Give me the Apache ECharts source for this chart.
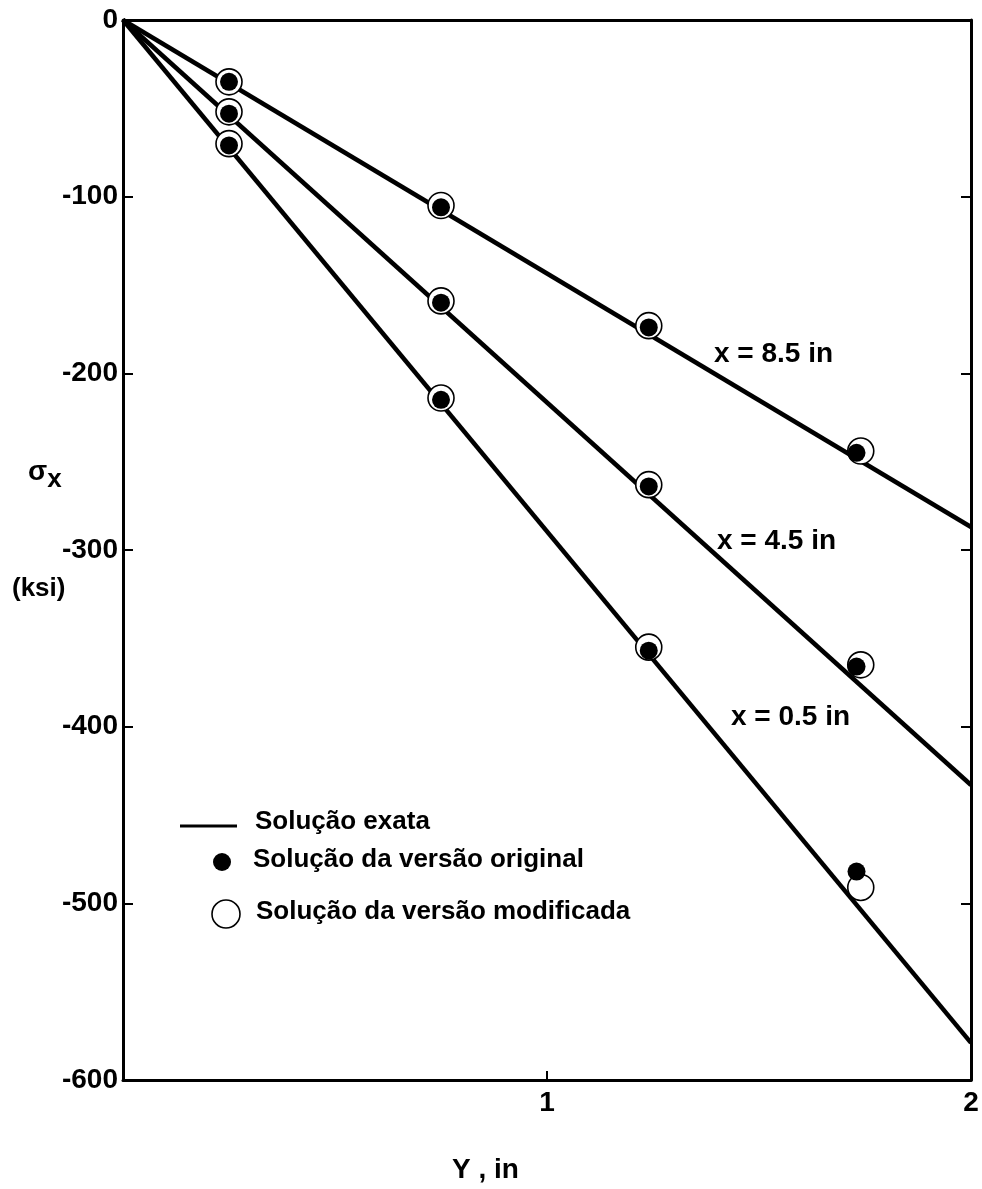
<!DOCTYPE html>
<html>
<head>
<meta charset="utf-8">
<script src="https://cdn.jsdelivr.net/npm/echarts@6/dist/echarts.min.js"></script>
<style>
  html, body { margin: 0; padding: 0; background: #ffffff; }
  #chart { width: 982px; height: 1189px; }
</style>
</head>
<body>
<div id="chart"></div>
<script>
// Exact solution: straight lines from the origin, sampled at both ends (Y, in)
const exactY = [0, 2];
const exact85 = [0, -287];
const exact45 = [0, -433];
const exact05 = [0, -579];

// Original-version solution (filled dots)
const origY = [0.25, 0.75, 1.24, 1.73];
const orig85 = [-35, -106, -174, -245];
const orig45 = [-53, -160, -264, -366];
const orig05 = [-71, -215, -357, -482];

// Modified-version solution (open circles)
const modY = [0.25, 0.75, 1.24, 1.74];
const mod85 = [-35, -105, -173, -244];
const mod45 = [-52, -159, -263, -365];
const mod05 = [-70, -214, -355, -491];

const curveLabels = ['x = 8.5 in', 'x = 4.5 in', 'x = 0.5 in'];
const legendLabels = ['Solução exata', 'Solução da versão original', 'Solução da versão modificada'];
const xTickLabels = { 1: '1', 2: '2' };

const zip = (xs, ys) => xs.map((x, i) => [x, ys[i]]);

const FONT = '"Liberation Sans", Arial, Helvetica, sans-serif';
const chart = echarts.init(document.getElementById('chart'), null, { renderer: 'canvas' });

const axisLine = { show: true, onZero: false, lineStyle: { color: '#000', width: 3 } };
const tickStyle = { color: '#000', width: 2 };

const lineSeries = [exact85, exact45, exact05].map(v => ({
  name: legendLabels[0],
  type: 'line',
  data: zip(exactY, v),
  symbol: 'none',
  lineStyle: { color: '#000', width: 4.5 },
  z: 2,
  silent: true
}));

const modSeries = [mod85, mod45, mod05].map(v => ({
  name: legendLabels[2],
  type: 'scatter',
  data: zip(modY, v),
  symbol: 'circle',
  symbolSize: 26,
  itemStyle: { color: '#fff', borderColor: '#000', borderWidth: 1.6, opacity: 1 },
  z: 3,
  silent: true
}));

const origSeries = [orig85, orig45, orig05].map(v => ({
  name: legendLabels[1],
  type: 'scatter',
  data: zip(origY, v),
  symbol: 'circle',
  symbolSize: 18,
  itemStyle: { color: '#000', opacity: 1 },
  z: 4,
  silent: true
}));

const textStyleBase = { fill: '#000', fontFamily: FONT, fontWeight: 'bold' };

chart.setOption({
  animation: false,
  backgroundColor: '#fff',
  grid: { left: 123, top: 20, width: 848, height: 1060, containLabel: false },
  xAxis: [
    {
      type: 'value', min: 0, max: 2, interval: 1, position: 'bottom',
      axisLine: axisLine,
      axisTick: { show: true, inside: true, length: 9, lineStyle: tickStyle },
      axisLabel: {
        color: '#000', fontFamily: FONT, fontWeight: 'bold', fontSize: 28, margin: 9,
        formatter: v => xTickLabels[v] || ''
      },
      splitLine: { show: false }
    },
    {
      type: 'value', min: 0, max: 2, interval: 1, position: 'top',
      axisLine: axisLine, axisTick: { show: false }, axisLabel: { show: false },
      splitLine: { show: false }
    }
  ],
  yAxis: [
    {
      type: 'value', min: -600, max: 0, interval: 100, position: 'left',
      axisLine: axisLine,
      axisTick: { show: true, inside: true, length: 10, lineStyle: tickStyle },
      axisLabel: { color: '#000', fontFamily: FONT, fontWeight: 'bold', fontSize: 28, margin: 5 },
      splitLine: { show: false }
    },
    {
      type: 'value', min: -600, max: 0, interval: 100, position: 'right',
      axisLine: axisLine,
      axisTick: { show: true, inside: true, length: 10, lineStyle: tickStyle },
      axisLabel: { show: false },
      splitLine: { show: false }
    }
  ],
  series: [...lineSeries, ...modSeries, ...origSeries],
  graphic: [
    // axis titles
    {
      type: 'text', left: 28, top: 458,
      style: {
        text: '{s|σ}{sub|x}',
        rich: {
          s: { fontFamily: FONT, fontWeight: 'bold', fontSize: 28, fill: '#000' },
          sub: { fontFamily: FONT, fontWeight: 'bold', fontSize: 26, fill: '#000', padding: [16, 0, 0, 0] }
        }
      }
    },
    { type: 'text', left: 12, top: 576, style: Object.assign({ text: '(ksi)', fontSize: 26 }, textStyleBase) },
    { type: 'text', left: 452, top: 1156, style: Object.assign({ text: 'Y , in', fontSize: 28 }, textStyleBase) },
    // curve labels
    { type: 'text', left: 714, top: 340, style: Object.assign({ text: curveLabels[0], fontSize: 28 }, textStyleBase) },
    { type: 'text', left: 717, top: 527, style: Object.assign({ text: curveLabels[1], fontSize: 28 }, textStyleBase) },
    { type: 'text', left: 731, top: 703, style: Object.assign({ text: curveLabels[2], fontSize: 28 }, textStyleBase) },
    // key
    { type: 'rect', shape: { x: 180, y: 824.5, width: 57, height: 3 }, style: { fill: '#000' } },
    { type: 'text', left: 255, top: 809, style: Object.assign({ text: legendLabels[0], fontSize: 26 }, textStyleBase) },
    { type: 'circle', shape: { cx: 222, cy: 862, r: 9 }, style: { fill: '#000' } },
    { type: 'text', left: 253, top: 847, style: Object.assign({ text: legendLabels[1], fontSize: 26 }, textStyleBase) },
    { type: 'circle', shape: { cx: 226, cy: 914, r: 14 }, style: { fill: '#fff', stroke: '#000', lineWidth: 1.6 } },
    { type: 'text', left: 256, top: 899, style: Object.assign({ text: legendLabels[2], fontSize: 26 }, textStyleBase) }
  ]
});
</script>
</body>
</html>
